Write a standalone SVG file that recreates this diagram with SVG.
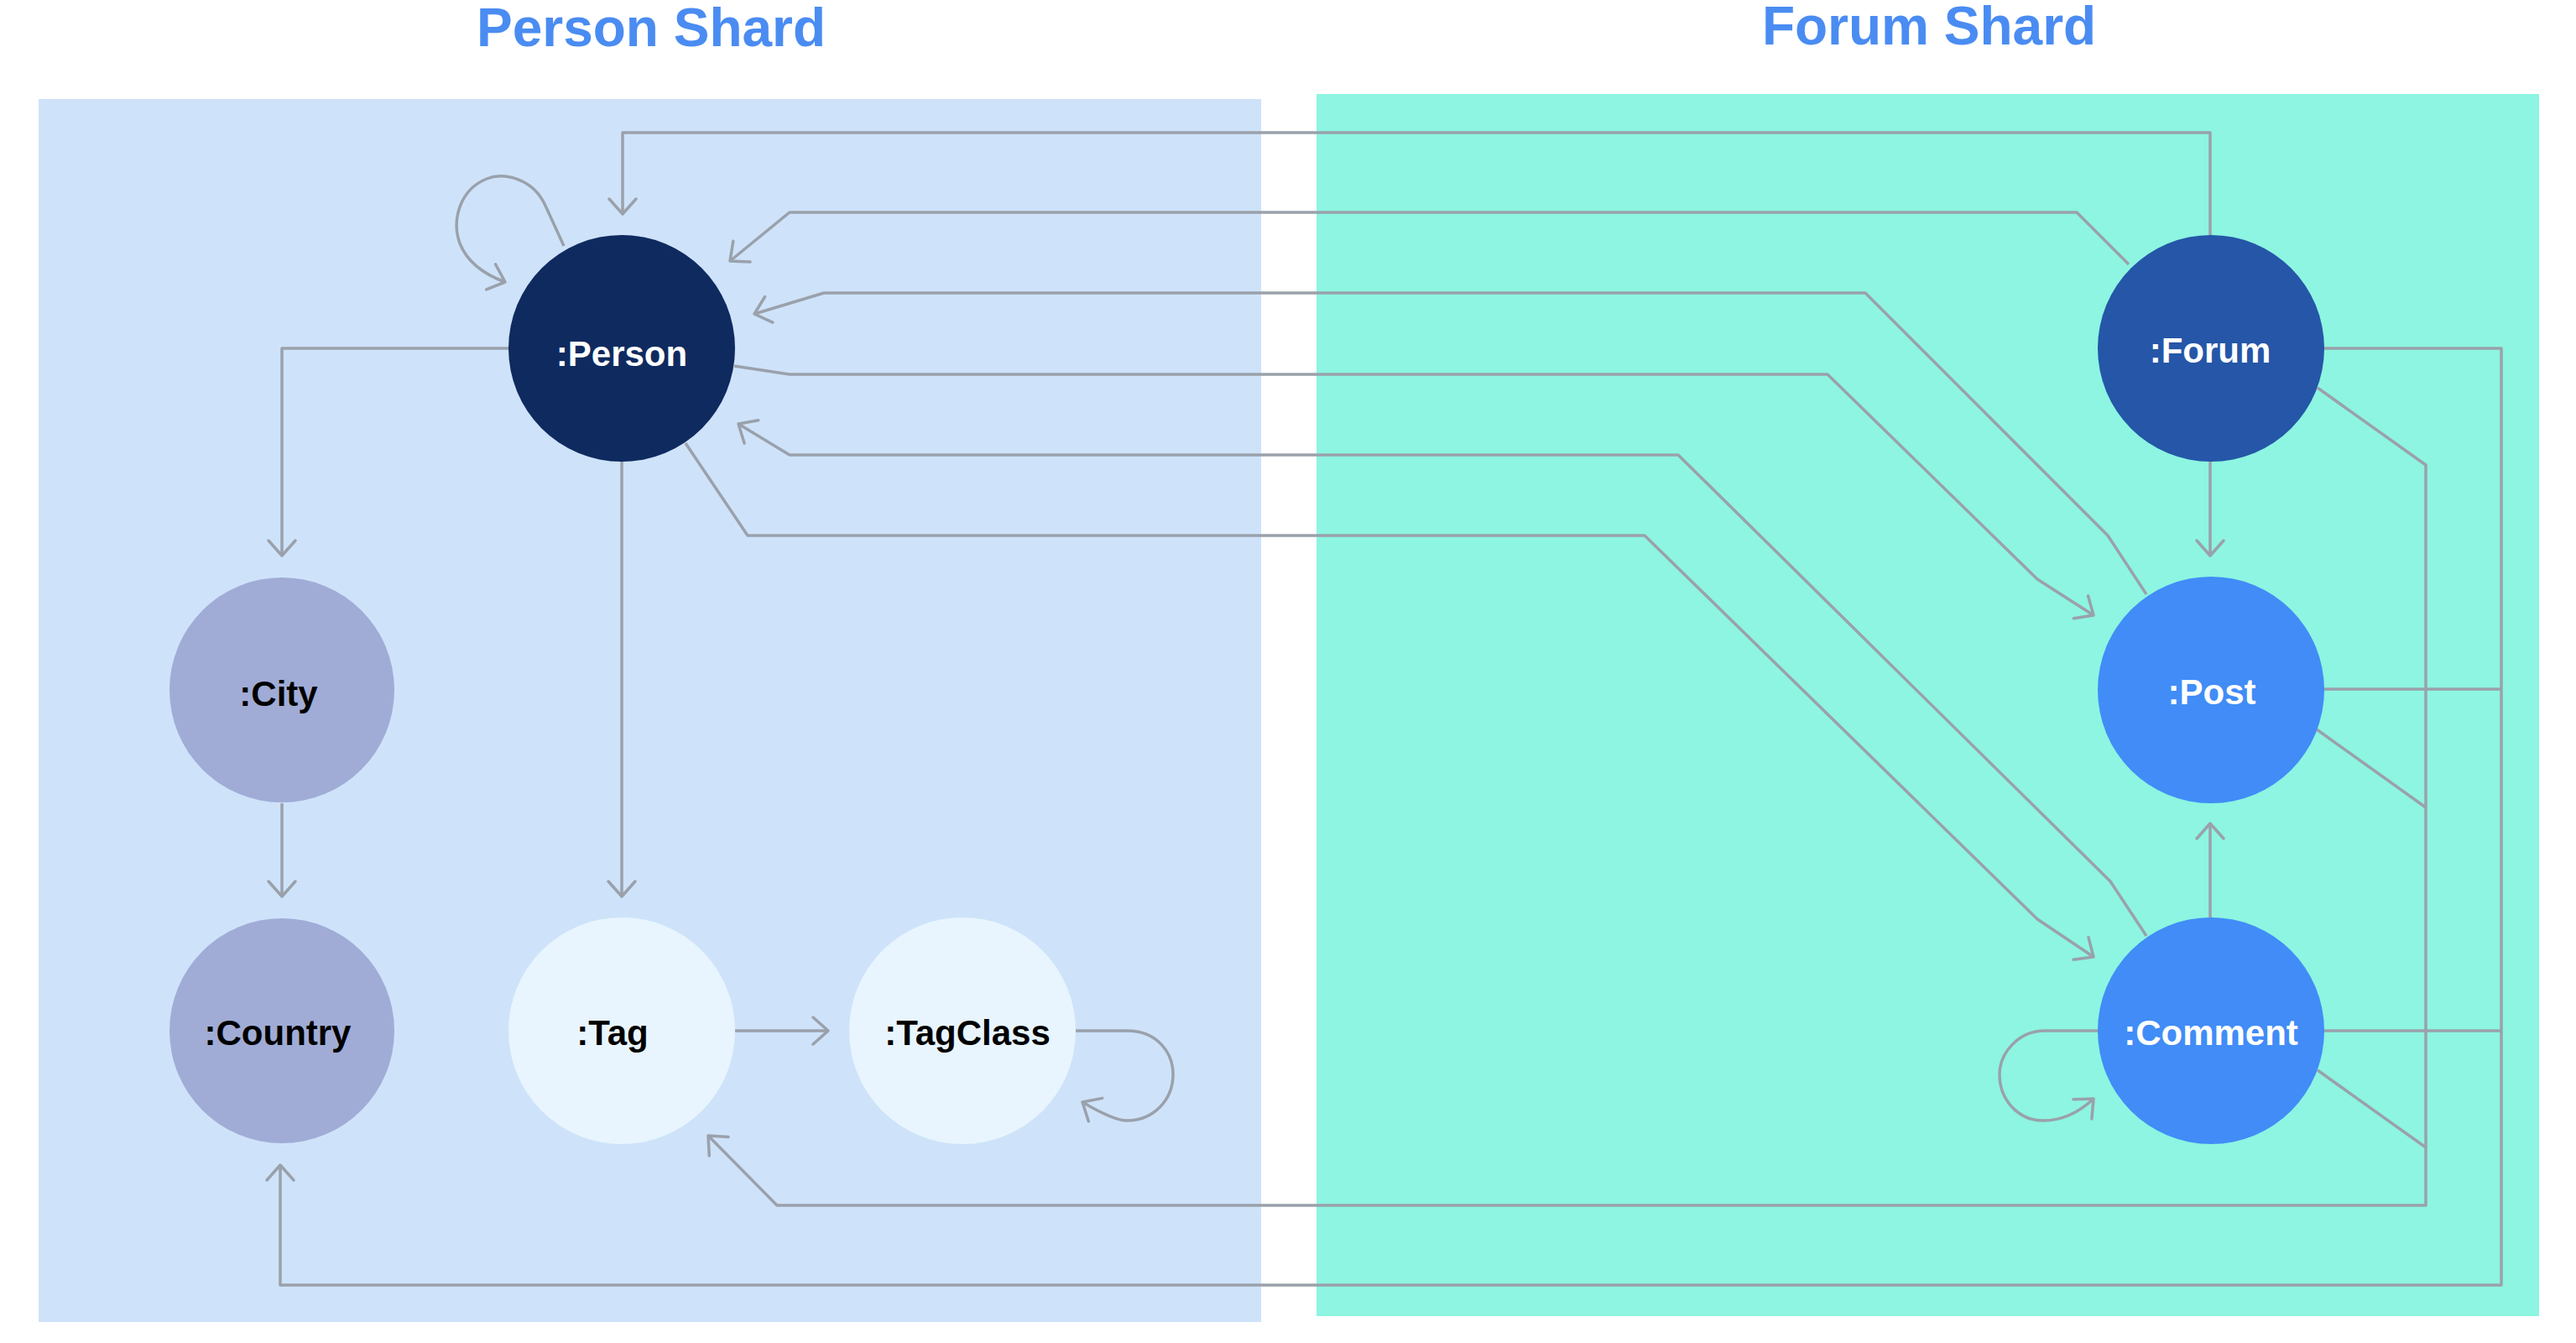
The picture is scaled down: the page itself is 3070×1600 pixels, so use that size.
<svg xmlns="http://www.w3.org/2000/svg" width="3070" height="1600" viewBox="0 0 3070 1600">
<defs>
<style>
.title{font-family:"Liberation Sans",Arial,sans-serif;font-weight:bold;font-size:64px;fill:#4a8cf2;text-anchor:middle}
.lbl{font-family:"Liberation Sans",Arial,sans-serif;font-weight:bold;font-size:42px;text-anchor:middle}
.w{fill:#ffffff}
.b{fill:#000000}
.e{fill:none;stroke:#9aa1ab;stroke-width:3.5;stroke-linejoin:round}
.a{marker-end:url(#arr)}
</style>
<marker id="arr" markerUnits="userSpaceOnUse" viewBox="-22 -20 26 40" markerWidth="26" markerHeight="40" refX="0" refY="0" orient="auto">
<path d="M -18 -16 L 0 0 L -18 16" fill="none" stroke="#9aa1ab" stroke-width="3.5" stroke-linecap="round" stroke-linejoin="round"/>
</marker>
</defs>
<rect width="3070" height="1600" fill="#ffffff"/>
<g id="panels">
<rect x="46" y="118" width="1457" height="1457" fill="#cee3fa"/>
<rect x="1569" y="112" width="1457" height="1456" fill="#8df5e1"/>
<text class="title" x="776" y="55">Person Shard</text>
<text class="title" x="2299" y="53">Forum Shard</text>
</g>
<g id="connectors">
<path class="e a" d="M 672 293 L 650 245 C 635 212 600 205 580 213 C 548 226 538 262 548 290 C 558 315 580 328 602 336"/>
<path class="e a" d="M 606 415 L 336 415 L 336 662"/>
<path class="e a" d="M 336 957 L 336 1068"/>
<path class="e a" d="M 741 550 L 741 1068"/>
<path class="e a" d="M 876 1228 L 987 1228"/>
<path class="e a" d="M 1282 1228 L 1343 1228 C 1380 1228 1398 1255 1398 1280 C 1398 1310 1375 1335 1343 1335 C 1330 1335 1312 1326 1290 1313"/>
<path class="e a" d="M 2634 281 L 2634 158 L 742 158 L 742 255"/>
<path class="e a" d="M 2537 315 L 2475 253 L 941 253 L 870 311"/>
<path class="e a" d="M 2558 708 L 2512 638 L 2223 349 L 982 349 L 899 374"/>
<path class="e a" d="M 875 436 L 941 446 L 2178 446 L 2428 690 L 2495 733"/>
<path class="e a" d="M 2558 1115 L 2515 1050 L 2000 542 L 941 542 L 880 505"/>
<path class="e a" d="M 817 528 L 891 638 L 1960 638 L 2428 1095 L 2495 1140"/>
<path class="e a" d="M 2634 550 L 2634 662"/>
<path class="e a" d="M 2634 1093 L 2634 981"/>
<path class="e a" d="M 2500 1228 L 2437 1228 C 2405 1228 2383 1255 2383 1280 C 2383 1310 2405 1335 2435 1335 C 2458 1335 2478 1325 2495 1309"/>
<path class="e a" d="M 2769 415 L 2981 415 L 2981 1531 L 334 1531 L 334 1388"/>
<path class="e" d="M 2769 821 L 2981 821"/>
<path class="e" d="M 2769 1228 L 2981 1228"/>
<path class="e a" d="M 2762 462 L 2891 554 L 2891 1436 L 926 1436 L 844 1353"/>
<path class="e" d="M 2761 869 L 2891 962"/>
<path class="e" d="M 2762 1275 L 2891 1367"/>
</g>
<g id="node-person"><circle cx="741" cy="415" r="135" fill="#0f2a5f"/><text class="lbl w" x="741" y="436">:Person</text></g>
<g id="node-city"><circle cx="336" cy="822" r="134" fill="#a0acd6"/><text class="lbl b" x="332" y="841">:City</text></g>
<g id="node-country"><circle cx="336" cy="1228" r="134" fill="#a0acd6"/><text class="lbl b" x="331" y="1245">:Country</text></g>
<g id="node-tag"><circle cx="741" cy="1228" r="135" fill="#e8f5fe"/><text class="lbl b" x="730" y="1245">:Tag</text></g>
<g id="node-tagclass"><circle cx="1147" cy="1228" r="135" fill="#e8f5fe"/><text class="lbl b" x="1153" y="1245">:TagClass</text></g>
<g id="node-forum"><circle cx="2635" cy="415" r="135" fill="#2556a8"/><text class="lbl w" x="2634" y="432">:Forum</text></g>
<g id="node-post"><circle cx="2635" cy="822" r="135" fill="#418cf7"/><text class="lbl w" x="2636" y="839">:Post</text></g>
<g id="node-comment"><circle cx="2635" cy="1228" r="135" fill="#418cf7"/><text class="lbl w" x="2635" y="1245">:Comment</text></g>
</svg>
